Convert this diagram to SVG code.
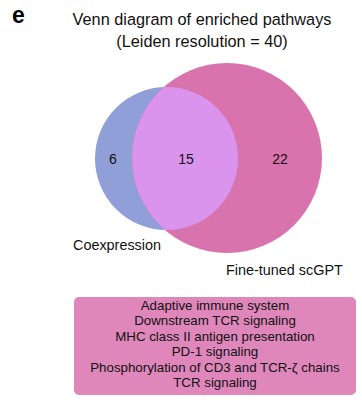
<svg xmlns="http://www.w3.org/2000/svg" width="362" height="402" viewBox="0 0 362 402">
<style>
text{font-family:"Liberation Sans",Arial,sans-serif;fill:#111}
.t{font-size:16.3px;text-anchor:middle}
.n{font-size:14px;text-anchor:middle}
.l{font-size:14.4px}
.b{font-size:13.3px;text-anchor:middle}
</style>
<rect width="362" height="402" fill="#fff"/>
<text x="12" y="23" style="font-size:23px;font-weight:bold;fill:#000">e</text>
<text class="t" x="202" y="25">Venn diagram of enriched pathways</text>
<text class="t" x="202" y="47">(Leiden resolution = 40)</text>
<g id="coexpression">
<circle cx="166.5" cy="158.5" r="71.5" fill="#909fd7"/>
</g>
<g id="scgpt">
<circle cx="227" cy="158" r="95" fill="#d973ad"/>
</g>
<g id="overlap">
<clipPath id="cp"><circle cx="166.5" cy="158.5" r="71.5"/></clipPath>
<circle cx="227" cy="158" r="95" fill="#da94ee" clip-path="url(#cp)"/>
</g>
<text class="n" x="113" y="164">6</text>
<text class="n" x="186" y="164">15</text>
<text class="n" x="280" y="164">22</text>
<text class="l" x="73" y="250">Coexpression</text>
<text class="l" x="226" y="275">Fine-tuned scGPT</text>
<g id="pathways">
<rect x="74" y="297" width="282" height="98" rx="5" fill="#df87bb"/>
<text class="b" x="215" y="310">Adaptive immune system</text>
<text class="b" x="215" y="325.4">Downstream TCR signaling</text>
<text class="b" x="215" y="340.8">MHC class II antigen presentation</text>
<text class="b" x="215" y="356.2">PD-1 signaling</text>
<text class="b" x="215" y="371.6">Phosphorylation of CD3 and TCR-ζ chains</text>
<text class="b" x="215" y="387">TCR signaling</text>
</g>
<g id="connectors"/>
</svg>
